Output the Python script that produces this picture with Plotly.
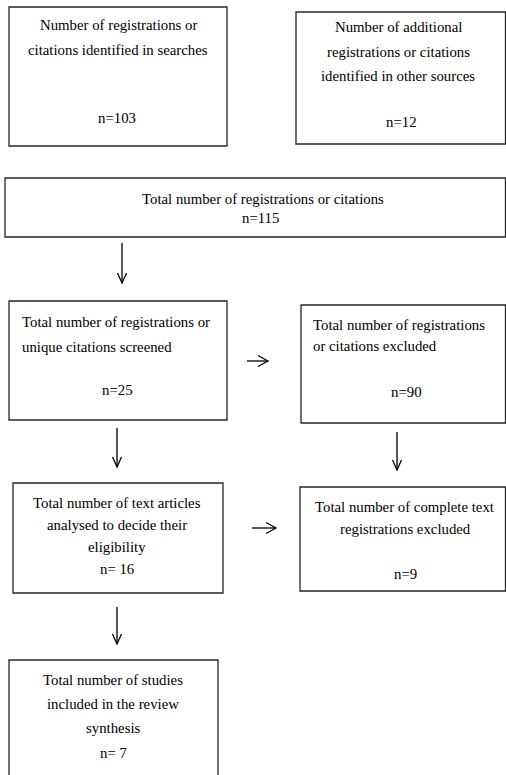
import plotly.graph_objects as go

# ---- data (text content of the flow diagram) ----
box_lines = [
    ["Number of registrations or", "citations identified in searches"],
    ["Number of additional", "registrations or citations", "identified in other sources"],
    ["Total number of registrations or citations"],
    ["Total number of registrations or", "unique citations screened"],
    ["Total number of registrations", "or citations excluded"],
    ["Total number of text articles", "analysed to decide their", "eligibility"],
    ["Total number of complete text", "registrations excluded"],
    ["Total number of studies", "included in the review", "synthesis"],
]
box_counts = ["n=103", "n=12", "n=115", "n=25", "n=90", "n= 16", "n=9", "n= 7"]

# ---- layout (pixel positions, y downward) ----
rects = [
    (9, 7, 227, 146),
    (296, 12, 505.5, 144),
    (5, 178, 505.5, 237),
    (9, 301, 227, 420),
    (301, 305, 505.5, 423),
    (13, 483, 223, 593),
    (300, 487, 505.5, 591),
    (9, 660, 218, 790),
]
# (text x, align, line y positions, count x, count y)
text_pos = [
    (118, "center", [25, 50], 117, 118),
    (398, "center", [27, 52, 76], 401, 122),
    (263, "center", [199], 260, 218),
    (20, "left", [322, 347], 117, 390),
    (311, "left", [325, 346], 406, 392),
    (117, "center", [503, 525, 547], 117, 569),
    (405, "center", [507, 529], 405, 574),
    (113, "center", [680, 704, 728], 113, 753),
]
# arrows: (x0, y0, x1, y1)
arrows = [
    (122, 243, 122, 283),
    (247, 361, 268, 361),
    (117, 428, 117, 467),
    (397, 432, 397, 470),
    (252, 528, 276, 528),
    (117, 607, 117, 644),
]

W, H = 506, 775
FONT = dict(family="Liberation Serif", size=14.8, color="#000000")

fig = go.Figure()
shapes = []
for (x0, y0, x1, y1) in rects:
    shapes.append(dict(type="rect", xref="x", yref="y", x0=x0, y0=y0, x1=x1, y1=y1,
                       line=dict(color="#262626", width=1.3), fillcolor="rgba(0,0,0,0)"))

for (x0, y0, x1, y1) in arrows:
    shapes.append(dict(type="line", xref="x", yref="y", x0=x0, y0=y0, x1=x1, y1=y1,
                       line=dict(color="#000000", width=1.3)))
    if x0 == x1:  # vertical, pointing down
        path = f"M {x1-4.5},{y1-10} L {x1},{y1} L {x1+4.5},{y1-10}"
    else:  # horizontal, pointing right
        path = f"M {x1-10},{y1-5.5} L {x1},{y1} L {x1-10},{y1+5.5}"
    shapes.append(dict(type="path", xref="x", yref="y", path=path,
                       line=dict(color="#000000", width=1.3)))

annotations = []
for lines, count, (tx, align, ys, cx, cy) in zip(box_lines, box_counts, text_pos):
    for line, y in zip(lines, ys):
        annotations.append(dict(x=tx, y=y, xref="x", yref="y", text=line, showarrow=False,
                                xanchor="center" if align == "center" else "left",
                                yanchor="middle", font=FONT))
    annotations.append(dict(x=cx, y=cy, xref="x", yref="y", text=count, showarrow=False,
                            xanchor="center", yanchor="middle", font=FONT))

fig.update_layout(
    width=W, height=H,
    margin=dict(l=0, r=0, t=0, b=0, pad=0),
    paper_bgcolor="white", plot_bgcolor="white",
    xaxis=dict(range=[0, W], visible=False, fixedrange=True),
    yaxis=dict(range=[H, 0], visible=False, fixedrange=True),
    shapes=shapes, annotations=annotations,
    showlegend=False,
)
fig.write_html(
    "out.html",
    config={"displayModeBar": False},
    post_script="document.body.style.margin='0';document.body.style.overflow='hidden';",
)
